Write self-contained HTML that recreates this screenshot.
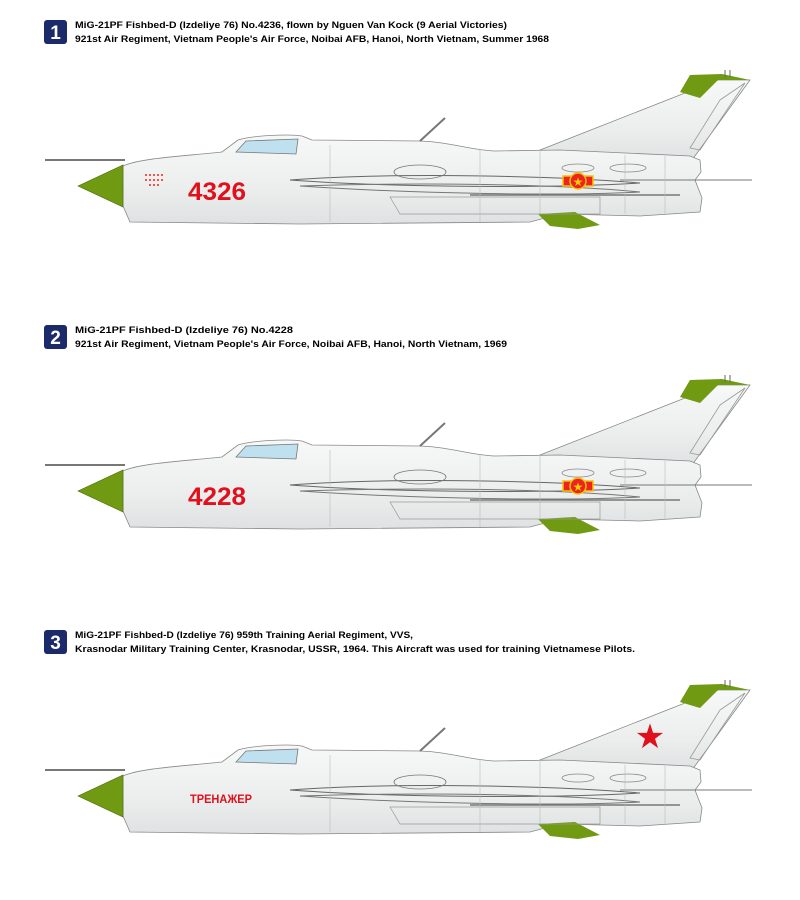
<!DOCTYPE html>
<html><head><meta charset="utf-8"><style>
html,body{margin:0;padding:0;background:#fff;}
svg{display:block;font-family:"Liberation Sans",sans-serif;}
</style></head><body>
<svg width="800" height="900" viewBox="0 0 800 900" xmlns="http://www.w3.org/2000/svg">
<defs>
<linearGradient id="fg" x1="0" y1="0" x2="0" y2="1">
<stop offset="0" stop-color="#f7f8f8"/><stop offset="0.6" stop-color="#eceeee"/><stop offset="1" stop-color="#dfe2e2"/>
</linearGradient>
<g id="jet">
<!-- pitot -->
<line x1="45" y1="160" x2="125" y2="160" stroke="#777" stroke-width="2"/>
<!-- fin -->
<path d="M540,150 L718,80 L750,80 L692,160 L560,162 Z" fill="url(#fg)" stroke="#888" stroke-width="0.8"/>
<path d="M690,75 L722,74 L750,80 L718,80 L700,98 L680,92 Z" fill="#6f9a12"/>
<path d="M720,100 L745,83 L700,150 L690,148 Z" fill="none" stroke="#999" stroke-width="0.8"/>
<line x1="725" y1="70" x2="725" y2="77" stroke="#666"/><line x1="730" y1="70" x2="730" y2="77" stroke="#666"/>
<!-- fuselage -->
<path d="M123,166 C140,158 185,156 222,152 L238,140 C255,135 290,134 302,136 L312,140 L420,141 C450,142 470,150 495,151 L560,150 L690,156 L700,160 L701,172 L695,180 L702,198 L700,212 L640,216 L560,214 L530,222 L300,224 L130,222 L123,206 Z" fill="url(#fg)" stroke="#888" stroke-width="0.8"/>
<!-- canopy -->
<path d="M236,152 L246,141 L298,139 L296,154 Z" fill="#bfe0ef" stroke="#777" stroke-width="0.8"/>
<!-- antenna -->
<line x1="420" y1="141" x2="445" y2="118" stroke="#777" stroke-width="2"/>
<!-- nose cone -->
<path d="M78,186 L123,165 L123,207 Z" fill="#6f9a12" stroke="#4a6a0a" stroke-width="0.6"/>
<!-- ventral fin -->
<path d="M538,214 L575,212 L600,225 L578,229 L550,226 Z" fill="#6f9a12"/>
<!-- wing / stores lines -->
<path d="M290,180 C400,172 560,176 640,183 C560,188 400,188 290,180 Z" fill="none" stroke="#666" stroke-width="1"/>
<path d="M300,186 C420,182 560,184 640,192 C560,196 420,194 300,186 Z" fill="none" stroke="#777" stroke-width="1"/>
<line x1="470" y1="195" x2="680" y2="195" stroke="#777" stroke-width="1.5"/>
<line x1="620" y1="180" x2="752" y2="180" stroke="#777" stroke-width="1"/>
<ellipse cx="420" cy="172" rx="26" ry="7" fill="none" stroke="#777" stroke-width="0.8"/>
<ellipse cx="578" cy="168" rx="16" ry="4" fill="none" stroke="#888" stroke-width="0.8"/>
<ellipse cx="628" cy="168" rx="18" ry="4" fill="none" stroke="#888" stroke-width="0.8"/>
<path d="M390,197 L600,197 L600,214 L400,214 Z" fill="none" stroke="#999" stroke-width="0.7"/>
<line x1="330" y1="145" x2="330" y2="222" stroke="#bbb" stroke-width="0.6"/>
<line x1="480" y1="150" x2="480" y2="222" stroke="#bbb" stroke-width="0.6"/>
<line x1="540" y1="150" x2="540" y2="214" stroke="#bbb" stroke-width="0.6"/>
<line x1="625" y1="155" x2="625" y2="214" stroke="#bbb" stroke-width="0.6"/>
<line x1="665" y1="156" x2="665" y2="214" stroke="#bbb" stroke-width="0.6"/>
</g>
<g id="vnroundel">
<rect x="563" y="176" width="30" height="10" fill="#e22" stroke="#f4c400" stroke-width="1.5"/>
<circle cx="578" cy="181" r="8" fill="#e22" stroke="#f4c400" stroke-width="1.5"/>
<text x="578" y="186" font-size="12" fill="#f4d000" text-anchor="middle">★</text>
</g>
<g id="badge"><rect x="44" y="20" width="23" height="24" rx="3" fill="#1b2a6b"/></g>
</defs>

<!-- Header 1 -->
<use href="#badge"/>
<text x="55.5" y="39" font-size="19" font-weight="bold" fill="#fff" text-anchor="middle">1</text>
<text x="75" y="28" font-size="9.5" font-weight="bold" textLength="432" lengthAdjust="spacingAndGlyphs">MiG-21PF Fishbed-D (Izdeliye 76) No.4236, flown by Nguen Van Kock (9 Aerial Victories)</text>
<text x="75" y="42" font-size="9.5" font-weight="bold" textLength="474" lengthAdjust="spacingAndGlyphs">921st Air Regiment, Vietnam People's Air Force, Noibai AFB, Hanoi, North Vietnam, Summer 1968</text>

<use href="#jet"/>
<use href="#vnroundel"/>
<g fill="#e22">
<circle cx="146" cy="175" r="1"/><circle cx="150" cy="175" r="1"/><circle cx="154" cy="175" r="1"/><circle cx="158" cy="175" r="1"/><circle cx="162" cy="175" r="1"/>
<circle cx="146" cy="180" r="1"/><circle cx="150" cy="180" r="1"/><circle cx="154" cy="180" r="1"/><circle cx="158" cy="180" r="1"/><circle cx="162" cy="180" r="1"/>
<circle cx="150" cy="185" r="1"/><circle cx="154" cy="185" r="1"/><circle cx="158" cy="185" r="1"/>
</g>
<text x="188" y="200" font-size="25" font-weight="bold" fill="#e0101c" textLength="58" lengthAdjust="spacingAndGlyphs">4326</text>

<!-- Header 2 -->
<g transform="translate(0,305)">
<use href="#badge"/>
<text x="55.5" y="39" font-size="19" font-weight="bold" fill="#fff" text-anchor="middle">2</text>
<text x="75" y="28" font-size="9.5" font-weight="bold" textLength="218" lengthAdjust="spacingAndGlyphs">MiG-21PF Fishbed-D (Izdeliye 76) No.4228</text>
<text x="75" y="42" font-size="9.5" font-weight="bold" textLength="432" lengthAdjust="spacingAndGlyphs">921st Air Regiment, Vietnam People's Air Force, Noibai AFB, Hanoi, North Vietnam, 1969</text>
<use href="#jet"/>
<use href="#vnroundel"/>
<text x="188" y="200" font-size="25" font-weight="bold" fill="#e0101c" textLength="58" lengthAdjust="spacingAndGlyphs">4228</text>
</g>

<!-- Header 3 -->
<g transform="translate(0,610)">
<use href="#badge"/>
<text x="55.5" y="39" font-size="19" font-weight="bold" fill="#fff" text-anchor="middle">3</text>
<text x="75" y="28" font-size="9.5" font-weight="bold" textLength="338" lengthAdjust="spacingAndGlyphs">MiG-21PF Fishbed-D (Izdeliye 76) 959th Training Aerial Regiment, VVS,</text>
<text x="75" y="42" font-size="9.5" font-weight="bold" textLength="560" lengthAdjust="spacingAndGlyphs">Krasnodar Military Training Center, Krasnodar, USSR, 1964. This Aircraft was used for training Vietnamese Pilots.</text>
<use href="#jet"/>
<text x="190" y="193" font-size="12" font-weight="bold" fill="#e0101c" textLength="62" lengthAdjust="spacingAndGlyphs">ТРЕНАЖЕР</text>
<text x="650" y="138" font-size="34" fill="#e0101c" text-anchor="middle">★</text>
</g>
</svg>
</body></html>
